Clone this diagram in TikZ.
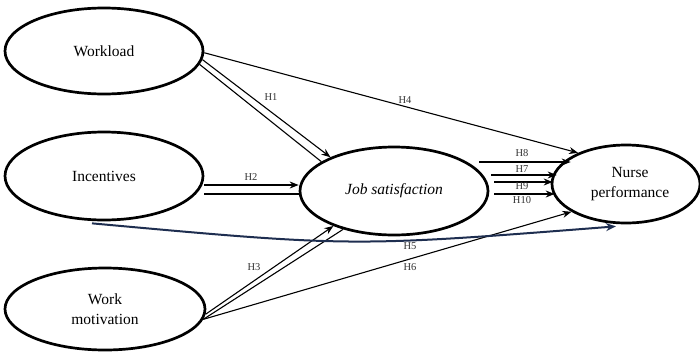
\documentclass[tikz,border=0pt]{standalone}
\usepackage{fontspec}
\setmainfont{Liberation Serif}
\usetikzlibrary{shapes.geometric,arrows.meta}
\definecolor{navy}{RGB}{30,46,80}
\begin{document}
\begin{tikzpicture}[x=1pt,y=-1pt,
  latent/.style={ellipse,draw,line width=2.7pt,font=\fontsize{15.5}{20}\selectfont,align=center,inner sep=0pt},
  arr/.style={line width=1.1pt,-{Stealth[length=9pt,width=7pt]}},
  plainline/.style={line width=1.1pt},
  blueline/.style={line width=2pt,draw=navy,-{Stealth[length=10pt,width=8pt]}},
  hlab/.style={font=\fontsize{10.5}{12}\selectfont,text=black!80,inner sep=0pt}]
\useasboundingbox (0,0) rectangle (700,356);
% nodes
\node[latent,minimum width=198pt,minimum height=86pt] (wl) at (104,51) {Workload};
\node[latent,minimum width=198pt,minimum height=88pt] (inc) at (104,176) {Incentives};
\node[latent,minimum width=200pt,minimum height=82pt] (wm) at (105,309) {Work\\motivation};
\node[latent,minimum width=188pt,minimum height=88pt] (js) at (394,191) {\itshape Job satisfaction};
\node[latent,minimum width=148pt,minimum height=78pt] (nurse) at (626,184) {\hspace*{8pt}Nurse\\\hspace*{8pt}performance};
% H1
\draw[arr] (wl.-5) -- (js.152);
\draw[plainline] (wl.-8) -- (js.158);
% H4
\draw[arr] (wl.-1) -- (nurse.147);
% H2
\draw[arr] ([shift={(0,9)}]inc.east) -- ([shift={(0,-6)}]js.west);
\draw[plainline] ([shift={(0,18)}]inc.east) -- ([shift={(0,3)}]js.west);
% H3
\draw[arr] (wm.-3) -- (js.210);
\draw[plainline] (wm.-6) -- (js.217);
% H6
\draw[arr] (wm.-6) -- (nurse.207);
% H5 curve
\draw[blueline] ([shift={(-12,2)}]inc.south) .. controls (352,247) .. ([shift={(-10,2)}]nurse.south);
% H8, H7, H9, H10
\draw[arr] ([shift={(-10,-29)}]js.east) -- ([shift={(20,-22)}]nurse.west);
\draw[arr] ([shift={(2,-16)}]js.east) -- ([shift={(6,-9)}]nurse.west);
\draw[arr] ([shift={(5,-9)}]js.east) -- ([shift={(2,-2)}]nurse.west);
\draw[arr] ([shift={(5,3)}]js.east) -- ([shift={(4,10)}]nurse.west);
% labels
\node[hlab] (l1) at (271,97) {H1};
\node[hlab] (l4) at (405,100) {H4};
\node[hlab] (l2) at (251,177) {H2};
\node[hlab] (l3) at (254,267) {H3};
\node[hlab] (l5) at (410,246) {H5};
\node[hlab] (l6) at (410,267) {H6};
\node[hlab] (l8) at (522,153) {H8};
\node[hlab] (l7) at (522,169) {H7};
\node[hlab] (l9) at (522,186) {H9};
\node[hlab] (l10) at (522,200) {H10};
\end{tikzpicture}
\end{document}
